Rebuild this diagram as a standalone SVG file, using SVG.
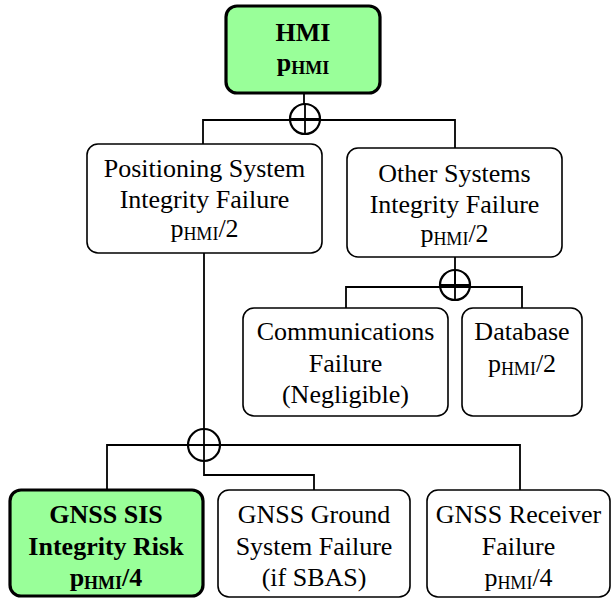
<svg xmlns="http://www.w3.org/2000/svg" width="611" height="598" viewBox="0 0 611 598">
<style>
.box{fill:#fff;stroke:#000;stroke-width:1.6}
.hl{fill:#99ff99;stroke:#000;stroke-width:3.2}
.t{font-family:"Liberation Serif","Times New Roman",serif;font-size:26px;text-anchor:middle;fill:#000}
.b{font-weight:bold}
.s{font-size:18px}
.c{fill:none;stroke:#000;stroke-width:1.8}
.g{fill:none;stroke:#000;stroke-width:2.2}
</style>
<g id="connectors">
<path class="c" d="M304 93V104 M203 144V120H455V148 M455 257V287 M346 308V287H522V308 M204 253V475H314V490 M107 490V445H520V490"/>
<circle class="g" cx="305" cy="119" r="15"/><path class="c" d="M290 119H320 M305 104V134"/>
<circle class="g" cx="455" cy="285" r="15"/><path class="c" d="M440 285H470 M455 270V300"/>
<circle class="g" cx="204" cy="445" r="16"/><path class="c" d="M188 445H220"/>
</g>
<g id="hmi">
<rect class="hl" x="226" y="6" width="154" height="87" rx="11"/>
<text class="t b" x="303" y="41">HMI</text>
<text class="t b" x="303" y="71">p<tspan class="s" dy="3">HMI</tspan></text>
</g>
<g id="positioning">
<rect class="box" x="87" y="144" width="235" height="109" rx="11"/>
<text class="t" x="204.5" y="177">Positioning System</text>
<text class="t" x="204.5" y="208">Integrity Failure</text>
<text class="t" x="204.5" y="237">p<tspan class="s" dy="3">HMI</tspan><tspan dy="-3">/2</tspan></text>
</g>
<g id="other">
<rect class="box" x="347" y="148" width="215" height="109" rx="11"/>
<text class="t" x="454.5" y="182">Other Systems</text>
<text class="t" x="454.5" y="213">Integrity Failure</text>
<text class="t" x="454.5" y="242">p<tspan class="s" dy="3">HMI</tspan><tspan dy="-3">/2</tspan></text>
</g>
<g id="comms">
<rect class="box" x="243" y="308" width="205" height="108" rx="11"/>
<text class="t" x="345.5" y="340">Communications</text>
<text class="t" x="345.5" y="372">Failure</text>
<text class="t" x="345.5" y="403">(Negligible)</text>
</g>
<g id="database">
<rect class="box" x="462" y="308" width="120" height="108" rx="11"/>
<text class="t" x="522" y="340">Database</text>
<text class="t" x="522" y="372">p<tspan class="s" dy="3">HMI</tspan><tspan dy="-3">/2</tspan></text>
</g>
<g id="sis">
<rect class="hl" x="10" y="490" width="193" height="106" rx="11"/>
<text class="t b" x="106" y="523">GNSS SIS</text>
<text class="t b" x="106" y="555">Integrity Risk</text>
<text class="t b" x="106" y="586">p<tspan class="s" dy="3">HMI</tspan><tspan dy="-3">/4</tspan></text>
</g>
<g id="ground">
<rect class="box" x="218" y="490" width="192" height="107" rx="11"/>
<text class="t" x="314" y="523">GNSS Ground</text>
<text class="t" x="314" y="555">System Failure</text>
<text class="t" x="314" y="586">(if SBAS)</text>
</g>
<g id="receiver">
<rect class="box" x="427" y="490" width="183" height="107" rx="11"/>
<text class="t" x="518.5" y="523">GNSS Receiver</text>
<text class="t" x="518.5" y="555">Failure</text>
<text class="t" x="518.5" y="586">p<tspan class="s" dy="3">HMI</tspan><tspan dy="-3">/4</tspan></text>
</g>
</svg>
